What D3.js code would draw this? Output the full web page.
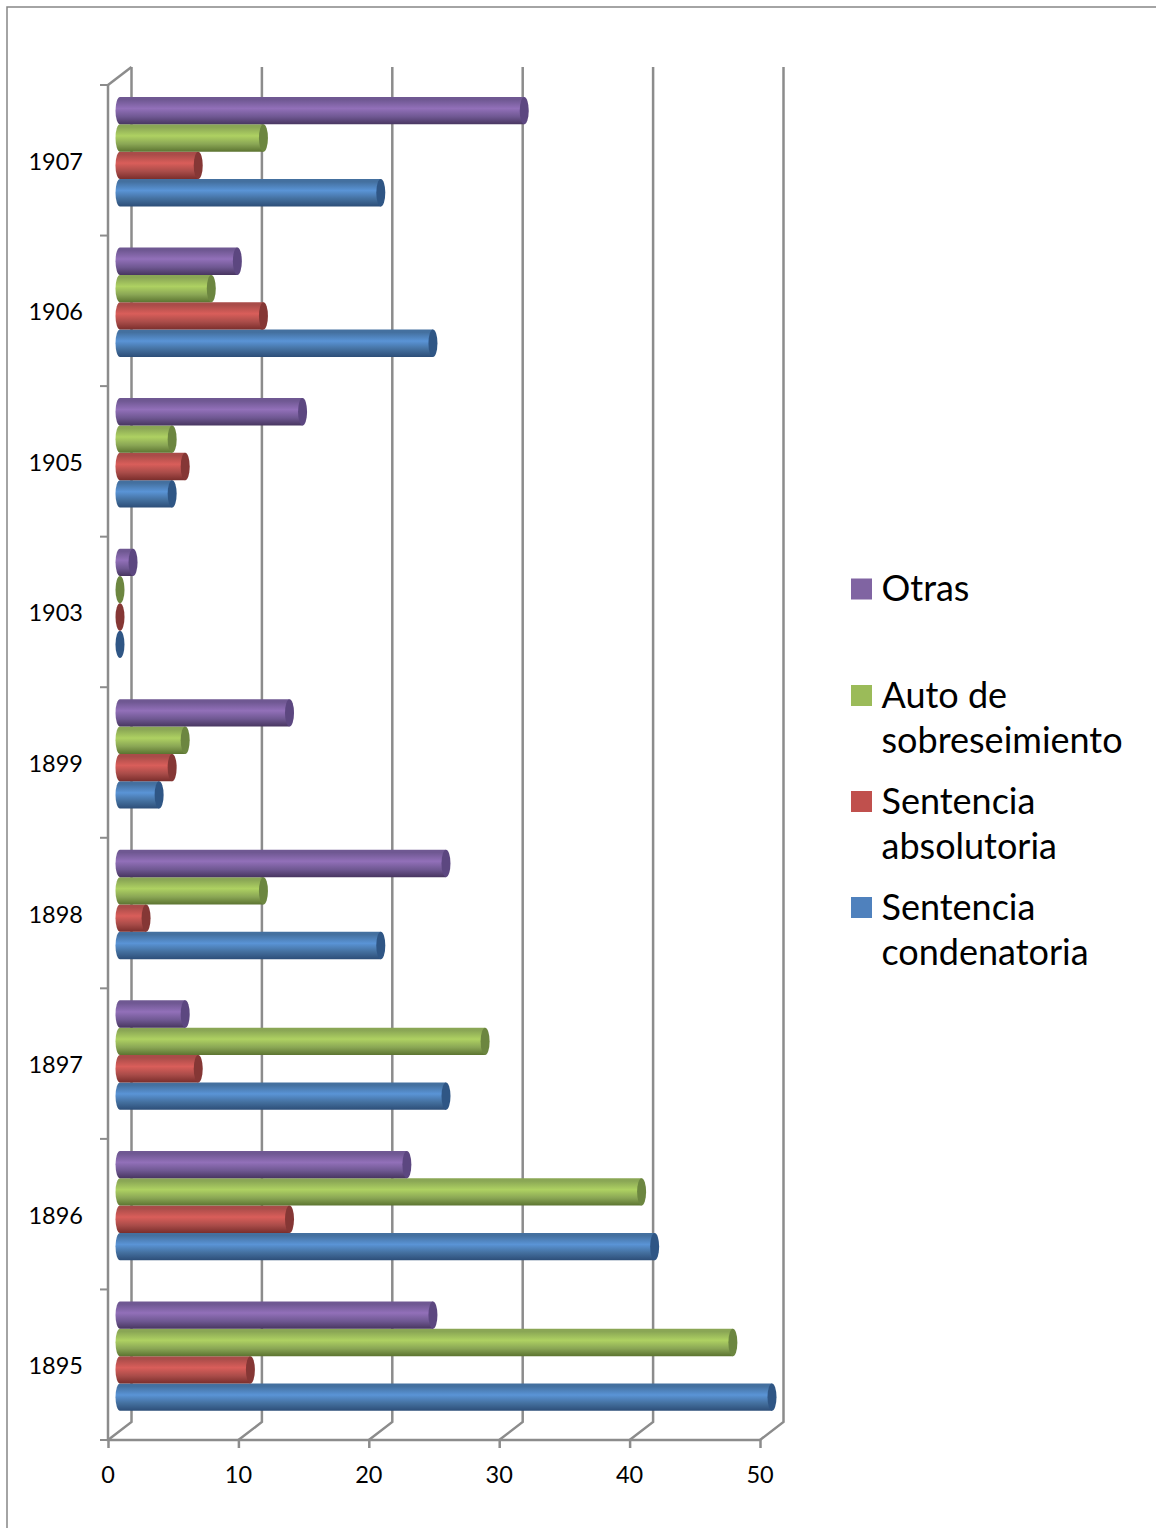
<!DOCTYPE html>
<html>
<head>
<meta charset="utf-8">
<script src="https://cdn.jsdelivr.net/npm/d3@7"></script>
<style>
  html, body { margin: 0; padding: 0; background: #fff; }
  svg { display: block; }
  text { fill: #000; }
</style>
</head>
<body>
<svg id="chart" width="1156" height="1528"></svg>
<script>
const years = ['1895', '1896', '1897', '1898', '1899', '1903', '1905', '1906', '1907'];
const seriesNames = ['Sentencia condenatoria', 'Sentencia absolutoria', 'Auto de sobreseimiento', 'Otras'];

const condenatoria = [50, 41, 25, 20, 3, 0, 4, 24, 20];
const absolutoria = [10, 13, 6, 2, 4, 0, 5, 11, 6];
const sobreseimiento = [47, 40, 28, 11, 5, 0, 4, 7, 11];
const otras = [24, 22, 5, 25, 13, 1, 14, 9, 31];
const seriesValues = [condenatoria, absolutoria, sobreseimiento, otras];

const xTicks = [0, 10, 20, 30, 40, 50];

// top, middle, bottom of the tube, then end cap and legend swatch
const tubeColors = [
    ['#44709f', '#5a94d6', '#2d4e78', '#2f5685', '#4f81bd'],
    ['#a94c49', '#d95e5a', '#7a2e2c', '#853735', '#c0504d'],
    ['#8aa655', '#aed162', '#5c7431', '#6c8640', '#9bbb59'],
    ['#6f5892', '#9270b9', '#483660', '#5c4780', '#8064a2']
];
const legendLines = [
    ['Sentencia', 'condenatoria'],
    ['Sentencia', 'absolutoria'],
    ['Auto de', 'sobreseimiento'],
    ['Otras']
];
const legendY = [907.5, 801.5, 695.5, 589];

const AXIS_COLOR = '#8c8c8c';
const depthX = 23.5, depthY = -18;   // shift from front axis to back wall
const barShift = 12;                 // bars sit part way into the depth
const capRx = 4.5;

const svg = d3.select('#chart');

// page border, only top and left show
svg.append('path')
    .attr('d', 'M7,1528V7H1156')
    .attr('fill', 'none')
    .attr('stroke', '#868686')
    .attr('stroke-width', 1.5);

const x = d3.scaleLinear().domain([0, 50]).range([108, 760]);
const y = d3.scaleBand().domain(years).range([1440, 85]);
const inner = d3.scaleBand().domain(d3.range(4)).range([109.4, 0]);
const barTop = year => y(year) + 12;   // top edge of the four bars in a band

const defs = svg.append('defs');
tubeColors.forEach((c, i) => {
    const g = defs.append('linearGradient')
        .attr('id', 'tube' + i)
        .attr('x1', 0).attr('x2', 0).attr('y1', 0).attr('y2', 1);
    [[0, c[0]], [0.1, c[0]], [0.42, c[1]], [0.72, c[0]], [1, c[2]]].forEach(s => {
        g.append('stop').attr('offset', s[0]).attr('stop-color', s[1]);
    });
});

// walls and floor
const walls = svg.append('g')
    .attr('fill', 'none')
    .attr('stroke', AXIS_COLOR)
    .attr('stroke-width', 2.5);

walls.selectAll('.grid')
    .data(xTicks)
    .enter()
    .append('path')
    .classed('grid', true)
    .attr('d', d => `M${x(d)},1440L${x(d) + depthX},${1440 + depthY}V${85 + depthY}`);

walls.append('path')
    .attr('d', `M${x(0)},85L${x(0) + depthX},${85 + depthY}`);
walls.append('path')
    .attr('d', `M${x(0)},85V1440H${x(50)}`);

// x axis
const xAxis = svg.append('g')
    .attr('transform', 'translate(0,1440)')
    .call(d3.axisBottom(x).tickValues(xTicks).tickSize(8).tickPadding(18));
xAxis.select('.domain').remove();
xAxis.selectAll('line').attr('stroke', AXIS_COLOR).attr('stroke-width', 2.5);
xAxis.selectAll('text')
    .attr('font-family', 'Lato, sans-serif')
    .attr('font-size', 23.5)
    .attr('dx', -0.5)
    .style('fill', '#000');

// category axis, ticks fall between the bands
const yAxis = svg.append('g')
    .attr('transform', 'translate(83,2)')
    .call(d3.axisLeft(y).tickSize(0).tickPadding(0));
yAxis.select('.domain').remove();
yAxis.selectAll('text')
    .attr('font-family', 'Lato, sans-serif')
    .attr('font-size', 23.5)
    .style('fill', '#000');

svg.append('g')
    .selectAll('line')
    .data(d3.range(years.length + 1))
    .enter()
    .append('line')
    .attr('x1', 100)
    .attr('x2', 108)
    .attr('y1', i => 1440 - i * y.step())
    .attr('y2', i => 1440 - i * y.step())
    .attr('stroke', AXIS_COLOR)
    .attr('stroke-width', 2);

// bars, one group per series
const h = inner.bandwidth();
seriesValues.forEach((vals, s) => {
    const c = tubeColors[s];
    const g = svg.append('g').selectAll('g')
        .data(years.map((yr, i) => ({ yr, v: vals[i] })))
        .enter()
        .append('g')
        .attr('transform', d => `translate(${barShift},${barTop(d.yr) + inner(s)})`);

    g.filter(d => d.v > 0)
        .append('path')
        .attr('fill', `url(#tube${s})`)
        .attr('d', d => {
            const x1 = x(d.v);
            return `M${x(0)},0H${x1}V${h}H${x(0)}A${capRx},${h / 2} 0 0 1 ${x(0)},0Z`;
        });

    g.append('ellipse')
        .attr('cx', d => x(d.v))
        .attr('cy', h / 2)
        .attr('rx', capRx)
        .attr('ry', h / 2)
        .attr('fill', c[3]);
});

// legend
const legend = svg.append('g')
    .selectAll('g')
    .data(seriesNames)
    .enter()
    .append('g')
    .attr('transform', (d, i) => `translate(851,${legendY[i]})`);

legend.append('rect')
    .attr('x', 0)
    .attr('y', -10.5)
    .attr('width', 21)
    .attr('height', 21)
    .attr('fill', (d, i) => tubeColors[i][4]);

legend.append('text')
    .attr('font-family', 'Lato, sans-serif')
    .attr('font-size', 36)
    .selectAll('tspan')
    .data((d, i) => legendLines[i])
    .enter()
    .append('tspan')
    .attr('x', 30.5)
    .attr('y', (d, i) => 12 + i * 45.5)
    .text(d => d);
</script>
</body>
</html>
